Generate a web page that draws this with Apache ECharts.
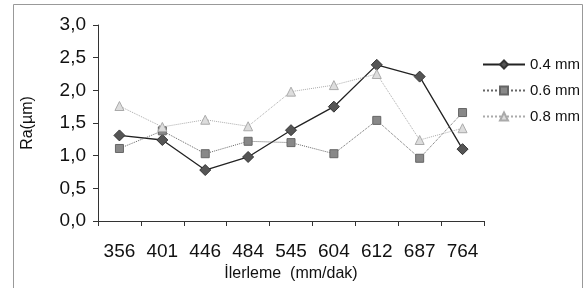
<!DOCTYPE html>
<html>
<head>
<meta charset="utf-8">
<script src="https://cdn.jsdelivr.net/npm/echarts@6/dist/echarts.min.js"></script>
<style>
  html, body { margin: 0; padding: 0; background: #fff; }
  #chart { width: 586px; height: 288px; }
</style>
</head>
<body>
<div id="chart"></div>
<script>
let feedRates = ['356', '401', '446', '484', '545', '604', '612', '687', '764'];
let ra04 = [1.31, 1.24, 0.78, 0.98, 1.39, 1.75, 2.39, 2.21, 1.10];
let ra06 = [1.11, 1.38, 1.03, 1.22, 1.20, 1.03, 1.54, 0.96, 1.66];
let ra08 = [1.76, 1.44, 1.55, 1.45, 1.98, 2.08, 2.25, 1.24, 1.42];

let font = 'Liberation Sans, Arial, sans-serif';

let optionRa = {
    animation: false,
    textStyle: { fontFamily: font },
    graphic: [
        {
            type: 'rect',
            shape: { x: 13.5, y: 4.5, width: 569, height: 300 },
            style: { fill: 'none', stroke: '#999', lineWidth: 1 },
            silent: true
        }
    ],
    grid: { left: 98, right: 102, top: 25, bottom: 67 },
    legend: {
        orient: 'vertical',
        left: 477,
        top: 52,
        padding: 5,
        itemWidth: 42,
        itemHeight: 10,
        itemGap: 11,
        textStyle: { fontSize: 15, color: '#111', fontFamily: font },
        data: ['0.4 mm', '0.6 mm', '0.8 mm']
    },
    xAxis: {
        type: 'category',
        data: feedRates,
        boundaryGap: true,
        name: 'İlerleme  (mm/dak)',
        nameLocation: 'middle',
        nameGap: 42,
        nameTextStyle: { fontSize: 16, color: '#111' },
        axisLine: { lineStyle: { color: '#333', width: 1 } },
        axisTick: { show: true, inside: false, length: 5, lineStyle: { color: '#333' } },
        axisLabel: { fontSize: 19, color: '#111', margin: 21 }
    },
    yAxis: {
        type: 'value',
        min: 0,
        max: 3,
        interval: 0.5,
        name: 'Ra(µm)',
        nameLocation: 'middle',
        nameGap: 62,
        nameRotate: 90,
        nameTextStyle: { fontSize: 16, color: '#111' },
        splitLine: { show: false },
        axisLine: { show: true, lineStyle: { color: '#333', width: 1 } },
        axisTick: { show: true, inside: false, length: 5, lineStyle: { color: '#333' } },
        axisLabel: {
            fontSize: 19,
            color: '#111',
            margin: 12,
            formatter: function (v) { return v.toFixed(1).replace('.', ','); }
        }
    },
    series: [
        {
            name: '0.4 mm',
            type: 'line',
            data: ra04,
            symbol: 'diamond',
            symbolSize: 11,
            lineStyle: { color: '#222', width: 1.3 },
            itemStyle: { color: '#555', borderColor: '#333', borderWidth: 1 }
        },
        {
            name: '0.6 mm',
            type: 'line',
            data: ra06,
            symbol: 'rect',
            symbolSize: 8,
            lineStyle: { color: '#666', width: 1, type: 'dotted' },
            itemStyle: { color: '#888', borderColor: '#666', borderWidth: 1 }
        },
        {
            name: '0.8 mm',
            type: 'line',
            data: ra08,
            symbol: 'triangle',
            symbolSize: 9,
            lineStyle: { color: '#aaa', width: 1, type: 'dotted' },
            itemStyle: { color: '#ddd', borderColor: '#aaa', borderWidth: 1 }
        }
    ]
};

let chartRa = echarts.init(document.getElementById('chart'));
chartRa.setOption(optionRa);
</script>
</body>
</html>
